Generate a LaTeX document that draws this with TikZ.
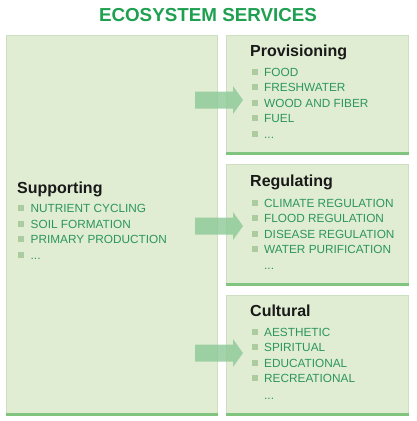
\documentclass[tikz,border=0pt]{standalone}
\usepackage{fontspec}
\setmainfont{Liberation Sans}
\definecolor{boxfill}{RGB}{224,237,211}
\definecolor{boxedge}{RGB}{205,223,193}
\definecolor{stripe}{RGB}{128,196,128}
\definecolor{titlegreen}{RGB}{30,160,80}
\definecolor{itemgreen}{RGB}{45,150,90}
\definecolor{bulletgreen}{RGB}{172,204,160}
\definecolor{arrowgreen}{RGB}{140,200,150}
\definecolor{headdark}{RGB}{25,25,25}
\tikzset{
  panel/.style={draw=boxedge, line width=0.8pt, fill=boxfill, anchor=north west, inner sep=0pt},
  heading/.style={anchor=base west, inner sep=0pt, text=headdark, font=\fontsize{16}{18}\selectfont\bfseries},
  item/.style={anchor=base west, inner sep=0pt, text=itemgreen, font=\fontsize{11.8}{14}\selectfont},
  bullet/.style={fill=bulletgreen, draw=none, minimum size=6pt, inner sep=0pt},
  fatarrow/.style={fill=arrowgreen, fill opacity=0.8, draw=none}
}
\newcommand\bigarrow[1]{\fill[fatarrow] (195,{#1-8.5}) -- (233,{#1-8.5}) -- (233,{#1-14}) -- (243,#1) -- (233,{#1+14}) -- (233,{#1+8.5}) -- (195,{#1+8.5}) -- cycle;}
\newcommand\itembullet[3]{\node[bullet] (#1) at (#2,{#3-4.2}) {};}
\begin{document}
\begin{tikzpicture}[x=1pt,y=-1pt]
\useasboundingbox (0,0) rectangle (416,421);
% title
\node[anchor=base, inner sep=0pt, text=titlegreen, font=\fontsize{18.8}{20}\selectfont\bfseries] (title) at (208,21) {ECOSYSTEM SERVICES};
% panels
\node[panel, minimum width=211pt, minimum height=380pt] (sup) at (6,35) {};
\node[panel, minimum width=182pt, minimum height=119pt] (prov) at (226,35) {};
\node[panel, minimum width=182pt, minimum height=121pt] (reg) at (226,164) {};
\node[panel, minimum width=182pt, minimum height=120pt] (cult) at (226,295) {};
\foreach \b in {sup,prov,reg,cult}{
  \fill[stripe] ([yshift=3pt]\b.south west) rectangle (\b.south east);
}
% arrows
\bigarrow{100}
\bigarrow{226}
\bigarrow{353}
% Supporting
\node[heading] (suph) at (17,193) {Supporting};
\itembullet{sb1}{21}{212}\node[item] (s1) at (30.5,212) {NUTRIENT CYCLING};
\itembullet{sb2}{21}{228}\node[item] (s2) at (30.5,228) {SOIL FORMATION};
\itembullet{sb3}{21}{243.5}\node[item] (s3) at (30.5,243.5) {PRIMARY PRODUCTION};
\itembullet{sb4}{21}{259}\node[item] (s4) at (30.5,259) {...};
% Provisioning
\node[heading] (provh) at (250,56.5) {Provisioning};
\itembullet{pb1}{255}{76}\node[item] (p1) at (264,76) {FOOD};
\itembullet{pb2}{255}{91.5}\node[item] (p2) at (264,91.5) {FRESHWATER};
\itembullet{pb3}{255}{107}\node[item] (p3) at (264,107) {WOOD AND FIBER};
\itembullet{pb4}{255}{122.5}\node[item] (p4) at (264,122.5) {FUEL};
\itembullet{pb5}{255}{138}\node[item] (p5) at (264,138) {...};
% Regulating
\node[heading] (regh) at (250,186.5) {Regulating};
\itembullet{rb1}{255}{207}\node[item] (r1) at (264,207) {CLIMATE REGULATION};
\itembullet{rb2}{255}{222.5}\node[item] (r2) at (264,222.5) {FLOOD REGULATION};
\itembullet{rb3}{255}{238}\node[item] (r3) at (264,238) {DISEASE REGULATION};
\itembullet{rb4}{255}{253.5}\node[item] (r4) at (264,253.5) {WATER PURIFICATION};
\node[item] (r5) at (264,269.5) {...};
% Cultural
\node[heading] (culth) at (250,316.5) {Cultural};
\itembullet{cb1}{255}{336}\node[item] (c1) at (264,336) {AESTHETIC};
\itembullet{cb2}{255}{351.5}\node[item] (c2) at (264,351.5) {SPIRITUAL};
\itembullet{cb3}{255}{367}\node[item] (c3) at (264,367) {EDUCATIONAL};
\itembullet{cb4}{255}{382.5}\node[item] (c4) at (264,382.5) {RECREATIONAL};
\node[item] (c5) at (264,399) {...};
\end{tikzpicture}
\end{document}
